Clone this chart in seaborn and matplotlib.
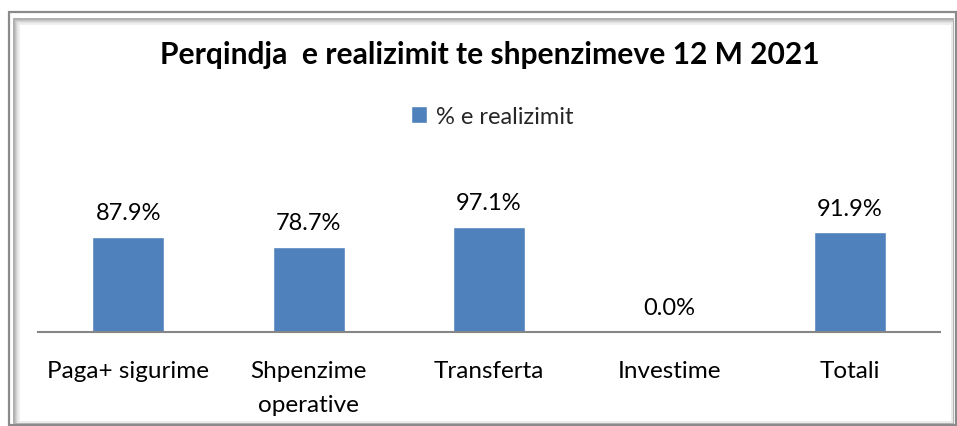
import matplotlib
matplotlib.use("Agg")
import matplotlib.pyplot as plt
from matplotlib.patches import Rectangle
import seaborn as sns
import pandas as pd

categories = ["Paga+ sigurime", "Shpenzime\noperative", "Transferta", "Investime", "Totali"]
realizimi = [87.9, 78.7, 97.1, 0.0, 91.9]
series_name = "% e realizimit"
title = "Perqindja  e realizimit te shpenzimeve 12 M 2021"

sns.set_theme(style="white")
plt.rcParams["font.family"] = ["Lato", "DejaVu Sans"]

W, H = 957, 427
fig = plt.figure(figsize=(W / 100, H / 100), dpi=100)
fig.patch.set_facecolor("white")

# bevelled frame around the chart area
def frect(x0, y0, x1, y1, **kw):
    fig.patches.append(Rectangle((x0 / W, 1 - y1 / H), (x1 - x0) / W, (y1 - y0) / H,
                                 transform=fig.transFigure, fill=False, **kw))

frect(9, 13, 956, 426, edgecolor="#8a8a8a", linewidth=1.6)
for i, c in enumerate(["#a0a0a0", "#b4b4b4", "#c6c6c6", "#d6d6d6", "#e4e4e4", "#eeeeee"]):
    frect(14 + i, 20 + i, 953 - i * 0.3, 424 - i * 0.3, edgecolor=c, linewidth=1.2)

ax = fig.add_axes([38 / W, 94 / H, 902 / W, 130 / H])
df = pd.DataFrame({"kategoria": categories, "vlera": [v / 100 for v in realizimi]})
sns.barplot(data=df, x="kategoria", y="vlera", color="#4f81bd", saturation=1,
            width=0.4, ax=ax, label=series_name)

ax.set_ylim(0, 1.2)
ax.set_xlim(-0.5, len(categories) - 0.5)
ax.set_xlabel("")
ax.set_ylabel("")
ax.set_yticks([])
for s in ["top", "right", "left"]:
    ax.spines[s].set_visible(False)
ax.spines["bottom"].set_color("#868686")
ax.spines["bottom"].set_linewidth(1.5)
ax.tick_params(axis="x", length=0, pad=20, labelsize=17.5, colors="black")
for lbl in ax.get_xticklabels():
    lbl.set_linespacing(1.75)
ax.set_facecolor("none")

for i, v in enumerate(realizimi):
    ax.annotate(f"{v:.1f}%", (i, v / 100), xytext=(0, 10), textcoords="offset points",
                ha="center", va="bottom", fontsize=17, color="black", annotation_clip=False)

fig.text(490 / W, 1 - 55 / H, title, ha="center", va="center", fontsize=21.6,
         fontweight="bold", color="black")

leg = ax.legend(loc="center", bbox_to_anchor=(492 / W, 1 - 117 / H),
                bbox_transform=fig.transFigure, frameon=False, fontsize=17,
                handlelength=0.7, handleheight=0.7, handletextpad=0.35)

fig.savefig("out.png", dpi=100, facecolor="white")
